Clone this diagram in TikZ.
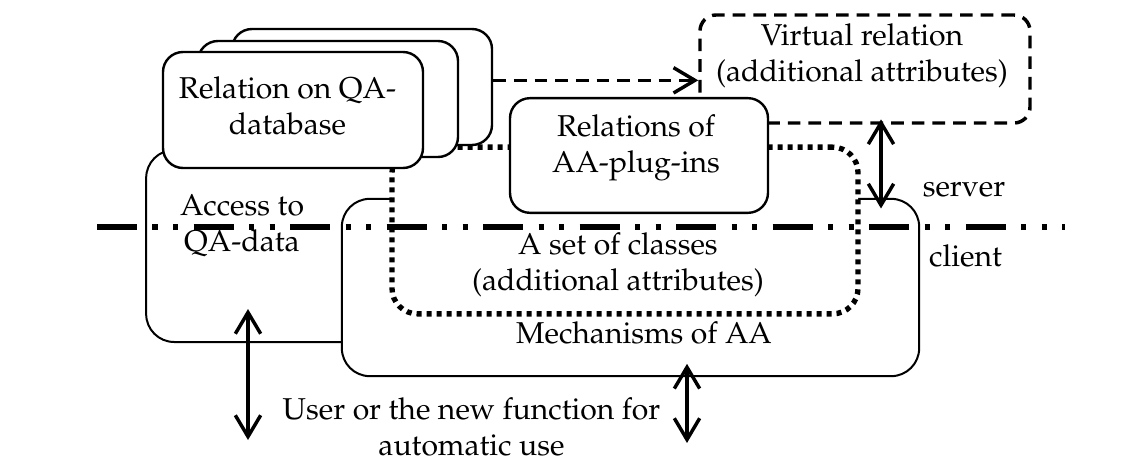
\documentclass[tikz,border=0pt]{standalone}
\usepackage[T1]{fontenc}
\renewcommand{\rmdefault}{ppl}
\usetikzlibrary{arrows.meta}
\tikzstyle{box} = [rectangle, rounded corners=15pt, draw=black, line width=1.8pt, fill=white, inner sep=0pt]
\tikzstyle{bigbox} = [box, rounded corners=21pt, line width=1.5pt]
\tikzstyle{dotbox} = [rectangle, rounded corners=19pt, draw=black, line width=4pt, dash pattern=on 3.8pt off 3.7pt, fill=white, inner sep=0pt]
\tikzstyle{dashbox} = [rectangle, rounded corners=12pt, draw=black, line width=2.6pt, dash pattern=on 9.5pt off 6pt, inner sep=0pt]
\tikzstyle{txt} = [align=center, font=\fontsize{22.6pt}{27pt}\selectfont, inner sep=0pt]
\tikzstyle{arrow} = [line width=2.6pt, <->, >={Straight Barb[length=16pt,width=19pt]}]
\tikzstyle{dasharrow} = [line width=2.6pt, dash pattern=on 9.5pt off 6pt, ->, >={Straight Barb[length=16pt,width=19pt]}]
\tikzstyle{divider} = [line width=4pt, dash pattern=on 30pt off 11.6pt on 3.8pt off 11.6pt on 3.8pt off 11.6pt]

\begin{document}
\begin{tikzpicture}[x=0.75pt, y=-0.75pt]
\useasboundingbox (0,0) rectangle (1145,463);

% client side
\node (access) [bigbox, minimum width=194pt, minimum height=144pt] at (275.5,246) {};
\node (mech) [bigbox, minimum width=433pt, minimum height=133pt] at (630.5,287.5) {};
\node (classes) [dotbox, minimum width=349.5pt, minimum height=125pt] at (625,230.5) {};

% server side
\node (virtual) [dashbox, minimum width=247.5pt, minimum height=81pt] at (865,69) {};
\node (rel3) [box, minimum width=195pt, minimum height=87pt] at (362,87) {};
\node (rel2) [box, minimum width=195pt, minimum height=87pt] at (328,99) {};
\node (rel1) [box, minimum width=195pt, minimum height=87pt] at (293,110) {};
\node (plugins) [box, minimum width=193.5pt, minimum height=86pt] at (639,155.5) {};

% texts
\node (reltxt) [txt] at (287.5,106) {Relation on QA-\\database};
\node (accesstxt) [txt] at (242,226) {Access to\\QA-data};
\node (plugtxt) [txt] at (636,148) {Relations of\\AA-plug-ins};
\node (virttxt) [txt] at (862,56) {Virtual relation\\(additional attributes)};
\node (classtxt) [txt] at (618,265) {A set of classes\\(additional attributes)};
\node (mechtxt) [txt] at (644,333) {Mechanisms of AA};
\node (usertxt) [txt] at (471.5,426.5) {User or the new function for\\automatic use};
\node (server) [txt] at (964,190) {server};
\node (client) [txt] at (965.5,256) {client};

% connectors
\coordinate (srv) at (881,0);
\coordinate (userL) at (248,440);
\coordinate (userR) at (687,443);
\draw [dasharrow] ([yshift=5pt]rel3.east) -- ([yshift=5pt]rel3.east -| virtual.west);
\draw [arrow] ([yshift=4pt]virtual.south -| srv) -- ([yshift=-8pt]mech.north -| srv);
\draw [arrow] (userL) -- ([yshift=25.5pt]access.south -| userL);
\draw [arrow] (userR) -- ([yshift=10pt]mech.south -| userR);

% server / client border
\coordinate (lineL) at (97,227);
\coordinate (lineR) at (1065,227);
\draw [divider] (lineL) -- (lineR);

\end{tikzpicture}
\end{document}
